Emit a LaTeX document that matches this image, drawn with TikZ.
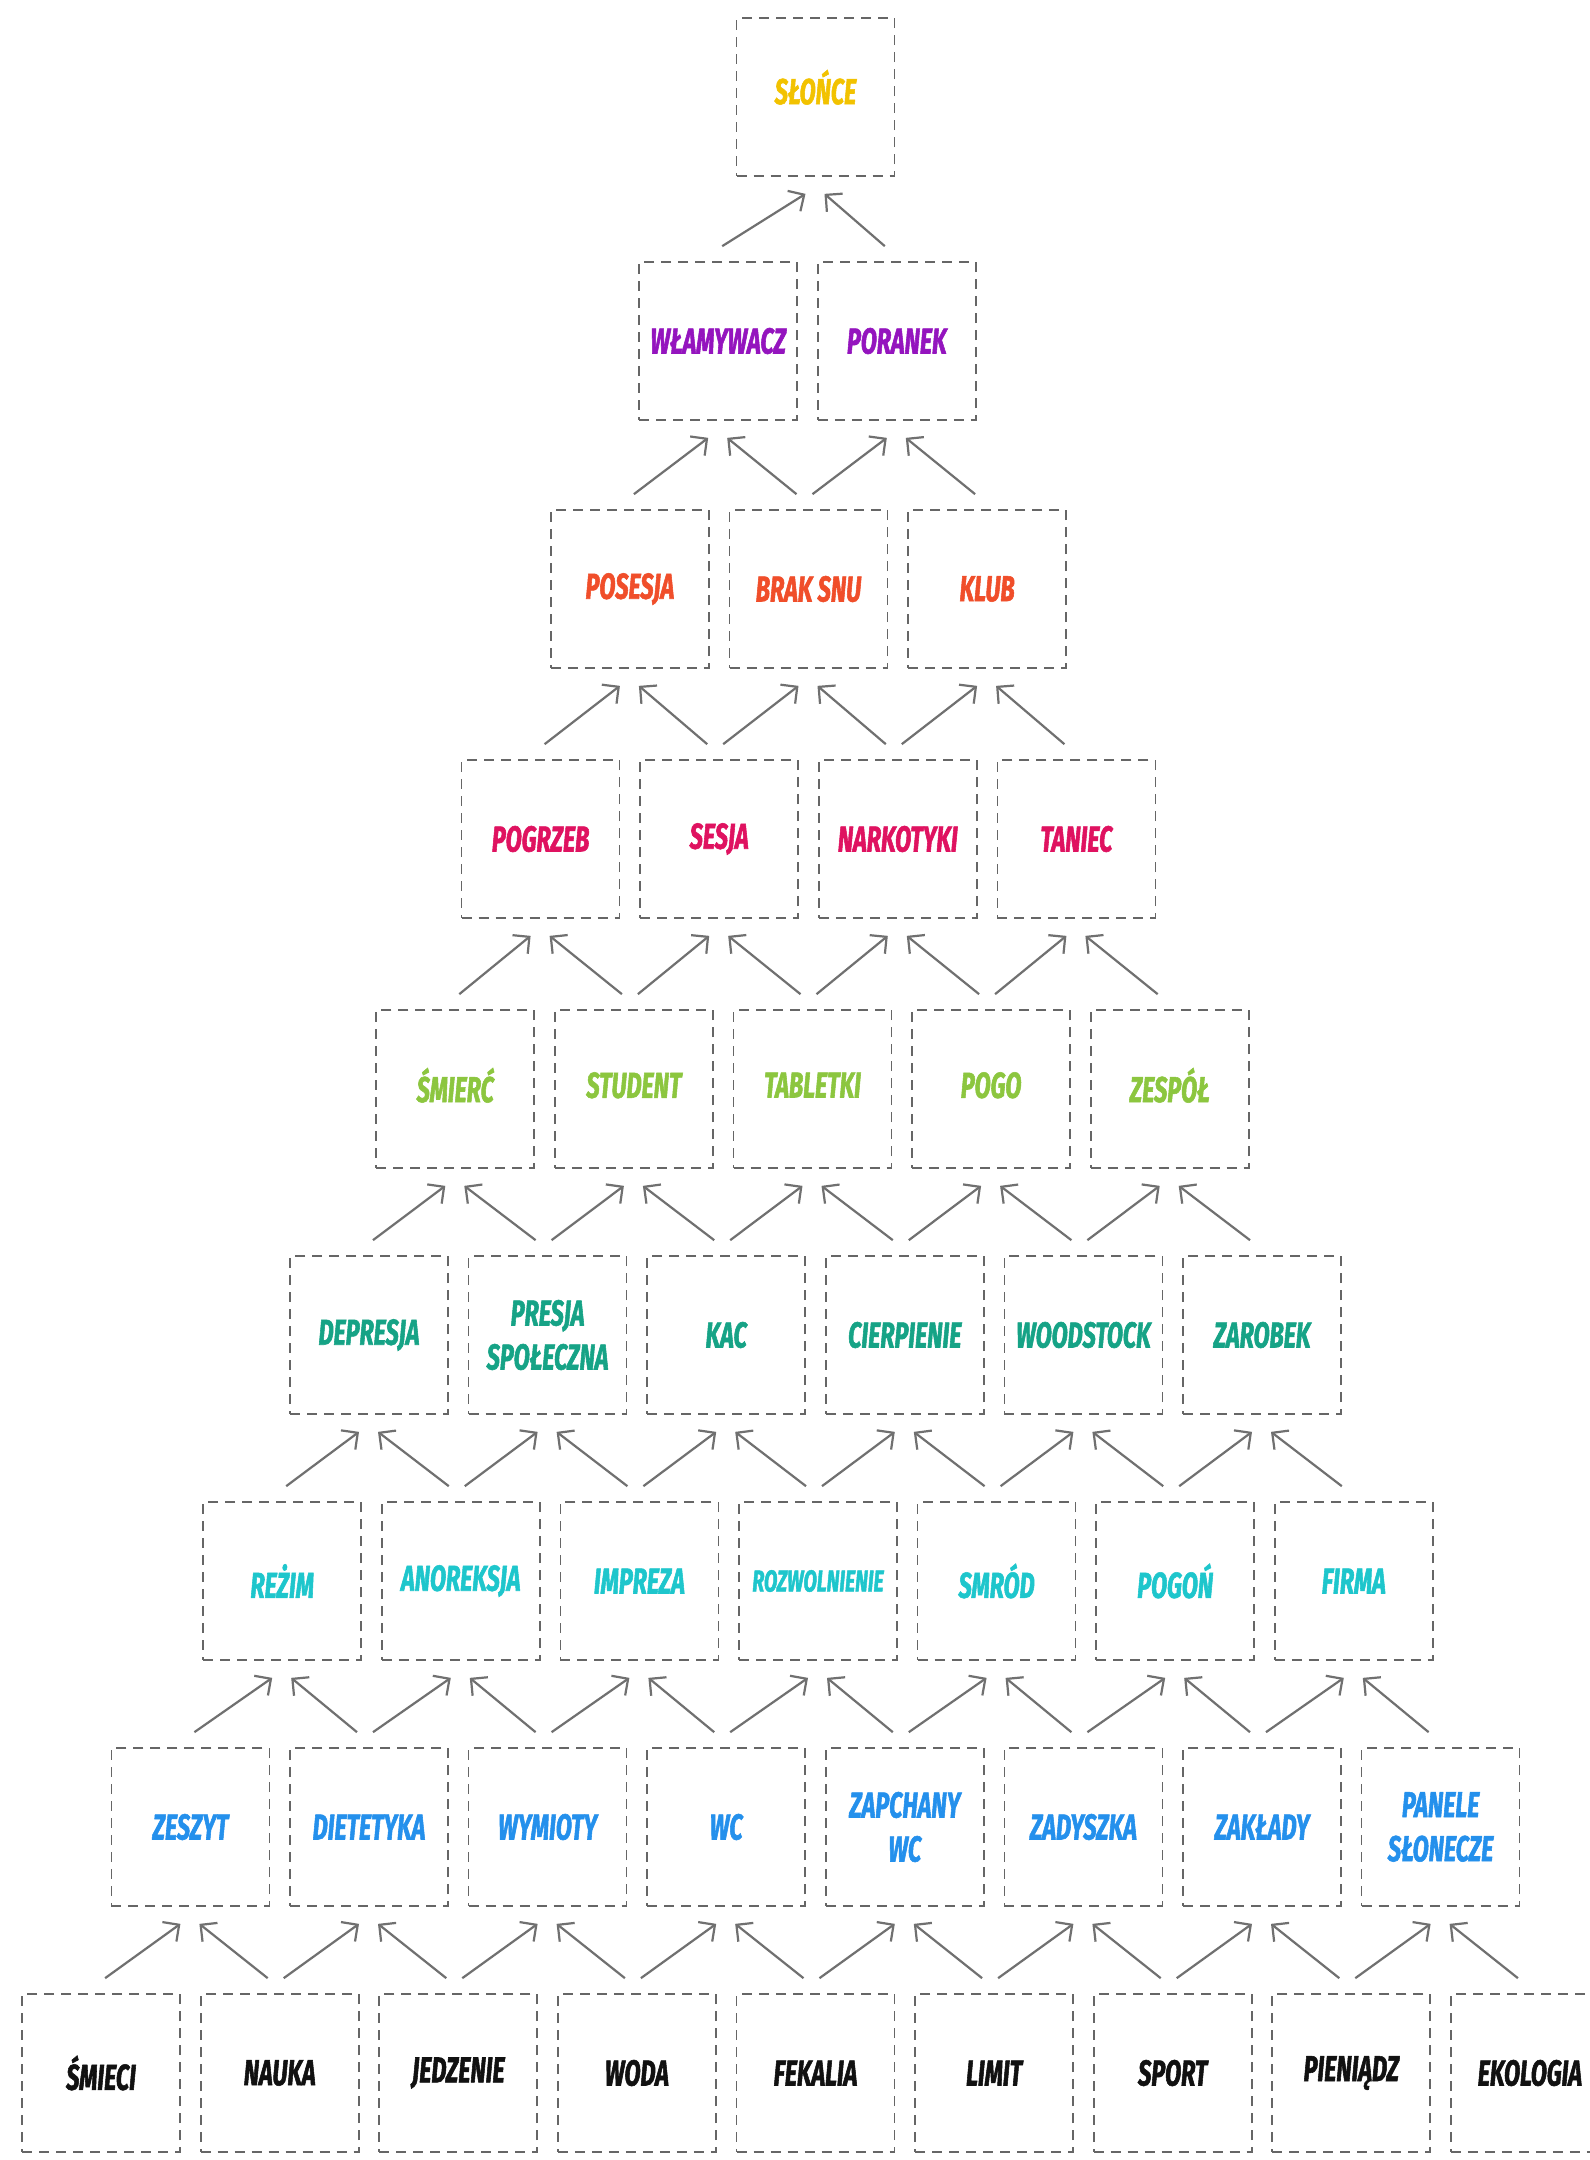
\documentclass[tikz,border=0pt]{standalone}
\usepackage{fontspec}
\setmainfont{Fira Sans}[FakeStretch=0.65, BoldItalicFeatures={FakeBold=1.5}]
\usetikzlibrary{arrows.meta}
\definecolor{cA}{HTML}{F2C200}
\definecolor{cB}{HTML}{9414BE}
\definecolor{cC}{HTML}{F04E2A}
\definecolor{cD}{HTML}{DF1260}
\definecolor{cE}{HTML}{8CC63F}
\definecolor{cF}{HTML}{16A386}
\definecolor{cG}{HTML}{1EC6CC}
\definecolor{cH}{HTML}{2490EC}
\definecolor{cI}{HTML}{111111}
\definecolor{boxgray}{HTML}{666666}
\definecolor{arrgray}{HTML}{707070}
\begin{document}
\begin{tikzpicture}[x=0.5pt,y=-0.5pt,
  box/.style={draw=boxgray, dash pattern=on 5pt off 3.5pt, line width=0.85pt,
    minimum width=79pt, minimum height=79pt, inner sep=0pt,
    font=\fontsize{18}{22}\selectfont\bfseries\itshape, align=center},
  arr/.style={draw=arrgray, line width=1.1pt, -{Straight Barb[length=6pt,width=12pt]}}]
\useasboundingbox (0,0) rectangle (1590,2160);
\fill[white] (0,0) rectangle (1590,2160);
% rows of nodes
\foreach \t [count=\i from 0] in {SŁOŃCE}
  \node[box,text=cA,text depth=10pt] (n1-\i) at ({815.5+(\i-0)*178.6},97) {\t};
\foreach \t [count=\i from 0] in {WŁAMYWACZ,PORANEK}
  \node[box,text=cB] (n2-\i) at ({807.5+(\i-0.5)*178.6},341) {\t};
\foreach \t [count=\i from 0] in {POSESJA,BRAK SNU,KLUB}
  \node[box,text=cC] (n3-\i) at ({808.5+(\i-1)*178.6},589) {\t};
\foreach \t [count=\i from 0] in {POGRZEB,SESJA,NARKOTYKI,TANIEC}
  \node[box,text=cD] (n4-\i) at ({808.5+(\i-1.5)*178.6},839) {\t};
\foreach \t [count=\i from 0] in {ŚMIERĆ,STUDENT,TABLETKI,POGO,ZESPÓŁ}
  \node[box,text=cE,text depth=4pt] (n5-\i) at ({812.5+(\i-2)*178.6},1089) {\t};
\foreach \t [count=\i from 0] in {DEPRESJA,{PRESJA\\SPOŁECZNA},KAC,CIERPIENIE,WOODSTOCK,ZAROBEK}
  \node[box,text=cF] (n6-\i) at ({815.5+(\i-2.5)*178.6},1335) {\t};
\foreach \t [count=\i from 0] in {REŻIM,ANOREKSJA,IMPREZA,{\fontsize{15}{22}\selectfont ROZWOLNIENIE},SMRÓD,POGOŃ,FIRMA}
  \node[box,text=cG] (n7-\i) at ({818+(\i-3)*178.6},1581) {\t};
\foreach \t [count=\i from 0] in {ZESZYT,DIETETYKA,WYMIOTY,WC,{ZAPCHANY\\WC},ZADYSZKA,ZAKŁADY,{PANELE\\SŁONECZE}}
  \node[box,text=cH] (n8-\i) at ({815.5+(\i-3.5)*178.6},1827) {\t};
\foreach \t [count=\i from 0] in {ŚMIECI,NAUKA,JEDZENIE,WODA,FEKALIA,LIMIT,SPORT,PIENIĄDZ,EKOLOGIA}
  \node[box,text=cI] (n9-\i) at ({815.5+(\i-4)*178.6},2073) {\t};
% connectors
\foreach \r in {1,...,8}{
  \pgfmathtruncatemacro{\rr}{\r+1}
  \pgfmathtruncatemacro{\last}{\r-1}
  \foreach \i in {0,...,\last}{
    \pgfmathtruncatemacro{\j}{\i+1}
    \draw[arr] ([xshift=2pt,yshift=7.5pt]n\rr-\i.north) -- ([xshift=-5pt,yshift=-8.5pt]n\r-\i.south);
    \draw[arr] ([xshift=-6pt,yshift=7.5pt]n\rr-\j.north) -- ([xshift=4.5pt,yshift=-8.5pt]n\r-\i.south);
  }
}
\end{tikzpicture}
\end{document}
